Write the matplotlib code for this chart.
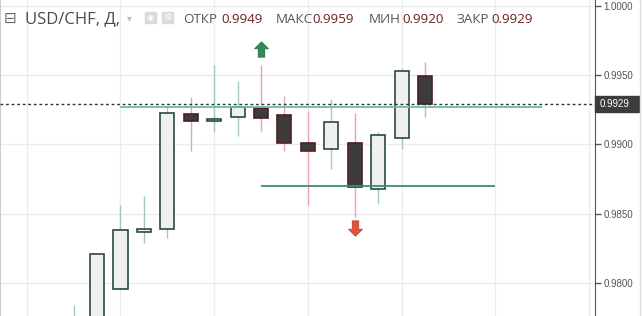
import numpy as np
import matplotlib.pyplot as plt
from matplotlib.path import Path
from matplotlib.patches import Rectangle
import matplotlib.transforms as mtransforms

# candle data (daily USD/CHF)
opens  = [0.9752, 0.9770, 0.97956, 0.98367, 0.98388, 0.99217, 0.99166, 0.99195,
          0.99260, 0.99210, 0.99008, 0.98965, 0.99008, 0.98677, 0.99048, 0.9949]
closes = [0.9770, 0.98208, 0.98381, 0.98388, 0.99224, 0.99166, 0.99181, 0.99267,
          0.99188, 0.99008, 0.98950, 0.99159, 0.98695, 0.99066, 0.99527, 0.9929]
highs  = [0.9784, 0.98220, 0.98563, 0.98628, 0.99267, 0.99339, 0.99572, 0.99457,
          0.99572, 0.99349, 0.99241, 0.99325, 0.99224, 0.99089, 0.99548, 0.9959]
lows   = [0.9745, 0.9768, 0.97956, 0.98287, 0.98323, 0.98955, 0.99092, 0.99063,
          0.99099, 0.98955, 0.98567, 0.98825, 0.98479, 0.98571, 0.98967, 0.9920]

# support / resistance lines: (start, end, level)
resistance = (2, 20, 0.99269)
support = (8, 18, 0.98698)

# signal arrows
up_signal = (8, 0.9969)
down_signal = (12, 0.98396)

yticks = [0.9800, 0.9850, 0.9900, 0.9950, 1.0000]
header_labels = ['ОТКР', 'МАКС', 'МИН', 'ЗАКР']
header_values = ['0.9949', '0.9959', '0.9920', '0.9929']

plt.rcParams['font.family'] = ['Open Sans', 'DejaVu Sans']

fig = plt.figure(figsize=(6.44, 3.16), dpi=100)
ax = fig.add_axes([0, 0, 595 / 644, 1])

x = np.arange(len(opens))
opens = np.array(opens)
closes = np.array(closes)
bull = closes >= opens

# wicks
ax.vlines(x[bull], np.array(lows)[bull], np.array(highs)[bull], color='#a3c6c8', lw=1, zorder=2)
ax.vlines(x[~bull], np.array(lows)[~bull], np.array(highs)[~bull], color='#e9a2b0', lw=1, zorder=2)

# bodies
bottoms = np.minimum(opens, closes)
heights = np.maximum(np.abs(closes - opens), 0.00012)
ax.bar(x[bull], heights[bull], bottom=bottoms[bull], width=0.6,
       color='#f0f0f0', edgecolor='#2b4a3c', lw=1.2, zorder=3)
ax.bar(x[~bull], heights[~bull], bottom=bottoms[~bull], width=0.6,
       color='#3d3b3b', edgecolor='#4e1f1f', lw=1.2, zorder=3)

# lines
ax.hlines(resistance[2], resistance[0], resistance[1], color='#6bbcaa', lw=1.3, zorder=4)
ax.hlines(support[2], support[0], support[1], color='#3a8c78', lw=1.3, zorder=4)
ax.axhline(closes[-1], color='#333333', lw=1, linestyle=(0, (2, 2)), zorder=5)

# arrows as markers
arrow_up = Path([(0, 1), (0.9, 0.1), (0.42, 0.1), (0.42, -1), (-0.42, -1),
                 (-0.42, 0.1), (-0.9, 0.1), (0, 1)])
arrow_down = Path([(0, -1), (0.9, -0.1), (0.42, -0.1), (0.42, 1), (-0.42, 1),
                   (-0.42, -0.1), (-0.9, -0.1), (0, -1)])
ax.plot(*up_signal, marker=arrow_up, ms=11, color='#2e8b57', mec='#256f46', mew=0.6, zorder=6)
ax.plot(*down_signal, marker=arrow_down, ms=11, color='#e0533a', mec='#c2432c', mew=0.6, zorder=6)

ax.set_xlim(-3.145, 22.26)
ax.set_ylim(0.97764, 1.00040)
ax.set_xticks(np.arange(-2, 23, 4))
ax.set_yticks(yticks)
ax.set_yticklabels(['%.4f' % t for t in yticks])
ax.grid(True, color='#ececec', lw=1)
ax.set_axisbelow(True)
ax.tick_params(axis='x', length=0, labelbottom=False)
ax.tick_params(axis='y', left=False, labelleft=False, right=True, labelright=True,
               length=4, width=1, color='#555555', labelcolor='#555555',
               labelsize=7, pad=2)
for lbl in ax.get_yticklabels():
    lbl.set_family(['Liberation Sans', 'DejaVu Sans'])
for s in ['top', 'bottom']:
    ax.spines[s].set_visible(False)
ax.spines['left'].set_color('#cccccc')
ax.spines['right'].set_color('#555555')

# current price tag on the axis
trans = mtransforms.blended_transform_factory(ax.transAxes, ax.transData)
ax.add_patch(Rectangle((1.0, closes[-1] - 0.00055), 44 / 595, 0.0011, transform=trans,
                       color='#3c3c3c', clip_on=False, zorder=7))
ax.text(1.0 + 5 / 595, closes[-1], '%.4f' % closes[-1], transform=trans, color='white',
        fontsize=7, va='center', ha='left', family=['Liberation Sans', 'DejaVu Sans'],
        zorder=8, clip_on=False)

# right border line
fig.add_artist(plt.Line2D([639.5 / 644, 639.5 / 644], [0, 1], color='#dddddd', lw=1))

# header
def px(xp):
    return xp / 644

base = 1 - 23 / 316
fig.text(px(4), base, '⊟', fontsize=11, color='#666666', family=['DejaVu Sans'])
fig.text(px(25), base, 'USD/CHF, Д,', fontsize=12, color='#4a4a4a')
fig.text(px(127), base + 0.005, '▾', fontsize=7, color='#bbbbbb', family=['DejaVu Sans'])
fig.add_artist(Rectangle((px(145), 1 - 23 / 316), 11 / 644, 11 / 316, color='#dadada'))
fig.add_artist(Rectangle((px(162), 1 - 23 / 316), 11 / 644, 11 / 316, color='#dadada'))
fig.text(px(150.5), 1 - 17.5 / 316, '◉', fontsize=6, color='white', ha='center', va='center',
         family=['DejaVu Sans'])
fig.text(px(167.5), 1 - 17.5 / 316, '⚙', fontsize=7, color='white', ha='center', va='center',
         family=['DejaVu Sans'])

label_x = [183, 276, 369, 456]
value_x = [221, 312, 402, 491]
for lx, vx, lab, val in zip(label_x, value_x, header_labels, header_values):
    fig.text(px(lx), base, lab, fontsize=9.6, color='#555555')
    fig.text(px(vx), base, val, fontsize=9.6, color='#6e1f1f')

fig.savefig('out.png', dpi=100)
